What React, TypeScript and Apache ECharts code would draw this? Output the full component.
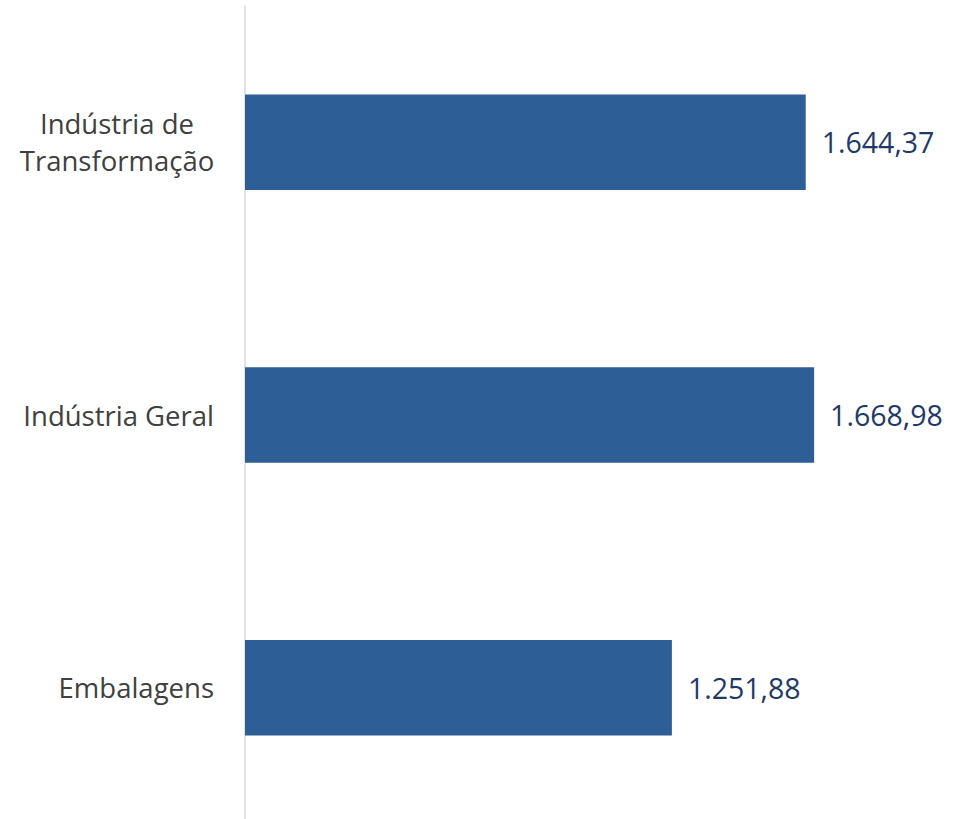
import React, { useEffect, useRef } from "react";
import * as echarts from "echarts";

const categories = ["Indústria de Transformação", "Indústria Geral", "Embalagens"];
const values = [1644.37, 1668.98, 1251.88];

function fmtBR(v: number): string {
  const [i, d] = v.toFixed(2).split(".");
  const withDots = i.replace(/\B(?=(\d{3})+(?!\d))/g, ".");
  return withDots + "," + d;
}

export default function App() {
  const ref = useRef<HTMLDivElement>(null);
  useEffect(() => {
    document.body.style.margin = "0";
    document.body.style.overflow = "hidden";
    const chart = echarts.init(ref.current!, undefined, { renderer: "svg" });
    chart.setOption({
      animation: false,
      backgroundColor: "#ffffff",
      grid: { left: 245, right: 42, top: 6, bottom: 6, containLabel: false },
      xAxis: {
        type: "value",
        min: 0,
        max: 2000,
        show: false,
        splitLine: { show: false },
      },
      yAxis: {
        type: "category",
        data: categories,
        inverse: true,
        axisLine: { show: true, lineStyle: { color: "#d9d9d9", width: 1.5 } },
        axisTick: { show: false },
        axisLabel: {
          margin: 31,
          fontFamily: "Open Sans",
          fontSize: 27.5,
          color: "#404040",
          lineHeight: 37,
          formatter: (v: string) => {
            if (v === "Indústria de Transformação") {
              return "{c|Indústria de}\n{c|Transformação}";
            }
            return v;
          },
          rich: {
            c: {
              width: 194,
              align: "center",
              fontFamily: "Open Sans",
              fontSize: 27.5,
              color: "#404040",
              lineHeight: 37,
            },
          },
        },
      },
      series: [
        {
          type: "bar",
          data: values,
          barWidth: "35%",
          itemStyle: { color: "#2e5e96" },
          label: {
            show: true,
            position: "right",
            distance: 16,
            fontFamily: "Open Sans",
            fontSize: 28.5,
            color: "#1f3a66",
            formatter: (p: any) => fmtBR(p.value as number),
          },
        },
      ],
    });
    return () => chart.dispose();
  }, []);
  return (
    <div style={{ width: 969, height: 819, overflow: "hidden" }}>
      <div ref={ref} style={{ width: 969, height: 830 }} />
    </div>
  );
}
